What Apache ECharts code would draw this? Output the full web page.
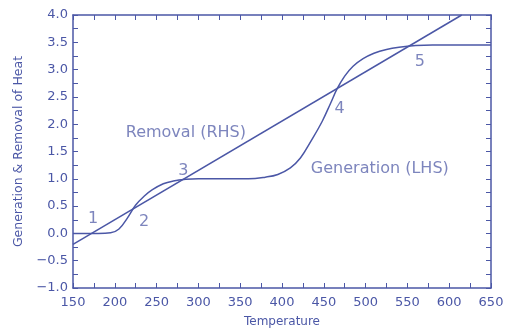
<!DOCTYPE html>
<html><head><meta charset="utf-8">
<script src="https://cdn.jsdelivr.net/npm/echarts@6/dist/echarts.min.js"></script>
<style>html,body{margin:0;padding:0;background:#fff}#c{width:518px;height:333px}</style>
</head><body><div id="c"></div>
<script>
// Data
const genX = [150,180,195,205,215,225,235,245,258,270,285,300,330,360,380,395,410,422,435,448,458,466,475,485,497,510,525,540,560,580,650];
const genY = [0.0,0.0,0.01,0.08,0.28,0.52,0.68,0.80,0.91,0.96,0.99,1.0,1.0,1.0,1.03,1.08,1.2,1.38,1.7,2.05,2.38,2.65,2.88,3.06,3.2,3.3,3.37,3.41,3.44,3.45,3.45];
const remX = [150, 615];
const remY = [-0.2, 4.0];
const annoText = ['Removal (RHS)','Generation (LHS)','1','2','3','4','5'];
const annoX = [285, 517, 174, 235, 282, 469, 565];
const annoY = [1.84, 1.18, 0.26, 0.21, 1.14, 2.29, 3.14];
const annoSize = [16, 16, 16, 16, 16, 16, 16];

const C = '#4b57a6';
const T = '#5d67ad';
const FONT = 'DejaVu Sans';
const chart = echarts.init(document.getElementById('c'));
const zip = (a,b)=>a.map((v,i)=>[v,b[i]]);
const axisCommon = () => ({
  axisLine:{show:true,onZero:false,lineStyle:{color:C,width:1.5}},
  axisTick:{show:true,inside:true,length:5,lineStyle:{color:C,width:1}},
  minorTick:{show:true,splitNumber:2,length:5,lineStyle:{color:C,width:1}},
  splitLine:{show:false}
});
chart.setOption({
  backgroundColor:'#fff',
  animation:false,
  grid:{left:73,right:27,top:15,bottom:40},
  xAxis:[
    Object.assign({type:'value',min:150,max:650,interval:50,position:'bottom',
      name:'Temperature',nameLocation:'middle',nameGap:28,
      nameTextStyle:{color:C,fontFamily:FONT,fontSize:12},
      axisLabel:{color:C,fontFamily:FONT,fontSize:13,margin:8}},axisCommon()),
    Object.assign({type:'value',min:150,max:650,interval:50,position:'top',
      axisLabel:{show:false}},axisCommon())
  ],
  yAxis:[
    Object.assign({type:'value',min:-1,max:4,interval:0.5,position:'left',
      name:'Generation & Removal of Heat',nameLocation:'middle',nameGap:46,
      nameTextStyle:{color:C,fontFamily:FONT,fontSize:12.5},
      axisLabel:{color:C,fontFamily:FONT,fontSize:13,margin:5,
        formatter:v=>v.toFixed(1).replace('-','\u2212')}},axisCommon()),
    Object.assign({type:'value',min:-1,max:4,interval:0.5,position:'right',
      axisLabel:{show:false}},axisCommon())
  ],
  series:[
    {type:'line',data:zip(genX,genY),smooth:0.4,showSymbol:false,
      lineStyle:{color:C,width:1.5},clip:true},
    {type:'line',data:zip(remX,remY),showSymbol:false,
      lineStyle:{color:C,width:1.5},clip:true},
    {type:'scatter',symbolSize:0,silent:true,
      data:annoText.map((t,i)=>({value:[annoX[i],annoY[i]],name:t,
        label:{show:true,position:'inside',formatter:t,color:T,fontFamily:FONT,fontSize:annoSize[i]}}))}
  ]
});
</script></body></html>
